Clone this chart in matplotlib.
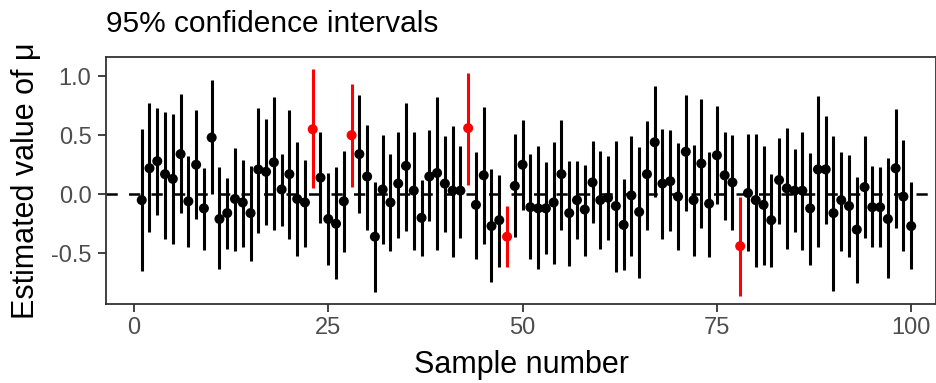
import matplotlib
matplotlib.use("Agg")
import matplotlib.pyplot as plt
import numpy as np

plt.rcParams['font.family'] = ['Liberation Sans', 'DejaVu Sans']

# sample means and 95% interval bounds
sample = list(range(1, 101))
estimate = [-0.05, 0.22, 0.28, 0.17, 0.13, 0.34, -0.06, 0.25, -0.12, 0.48,
            -0.21, -0.16, -0.04, -0.07, -0.16, 0.21, 0.19, 0.27, 0.04, 0.17,
            -0.04, -0.07, 0.55, 0.14, -0.21, -0.25, -0.06, 0.50, 0.34, 0.15,
            -0.36, 0.04, -0.07, 0.09, 0.24, 0.03, -0.20, 0.15, 0.18, 0.09,
            0.03, 0.03, 0.56, -0.09, 0.16, -0.27, -0.22, -0.36, 0.07, 0.25,
            -0.11, -0.12, -0.12, -0.07, 0.17, -0.16, -0.05, -0.13, 0.10, -0.05,
            -0.03, -0.10, -0.26, -0.01, -0.15, 0.17, 0.44, 0.09, 0.11, -0.02,
            0.36, -0.05, 0.26, -0.08, 0.33, 0.16, 0.10, -0.44, 0.01, -0.05,
            -0.09, -0.22, 0.12, 0.05, 0.03, 0.03, -0.12, 0.21, 0.21, -0.16,
            -0.05, -0.10, -0.30, 0.06, -0.11, -0.11, -0.21, 0.22, -0.02, -0.27]
upper = [0.55, 0.77, 0.73, 0.70, 0.68, 0.85, 0.32, 0.71, 0.22, 0.97,
         0.23, 0.14, 0.39, 0.29, 0.24, 0.73, 0.64, 0.82, 0.34, 0.71,
         0.44, 0.29, 1.06, 0.53, 0.18, 0.23, 0.37, 0.93, 0.84, 0.59,
         0.10, 0.50, 0.34, 0.53, 0.77, 0.53, 0.12, 0.54, 0.82, 0.49,
         0.58, 0.41, 1.03, 0.36, 0.74, 0.21, 0.16, -0.10, 0.51, 0.63,
         0.34, 0.41, 0.27, 0.44, 0.63, 0.28, 0.28, 0.25, 0.45, 0.37,
         0.32, 0.45, 0.13, 0.49, 0.40, 0.62, 0.92, 0.55, 0.54, 0.43,
         0.84, 0.42, 0.81, 0.36, 0.75, 0.53, 0.50, -0.02, 0.51, 0.51,
         0.41, 0.17, 0.48, 0.56, 0.38, 0.53, 0.35, 0.83, 0.66, 0.49,
         0.36, 0.33, 0.15, 0.49, 0.24, 0.23, 0.31, 0.72, 0.46, 0.10]
lower = [-0.65, -0.32, -0.18, -0.38, -0.42, -0.16, -0.45, -0.21, -0.47, 0.00,
         -0.63, -0.46, -0.48, -0.45, -0.57, -0.33, -0.26, -0.30, -0.27, -0.38,
         -0.52, -0.45, 0.05, -0.24, -0.60, -0.72, -0.49, 0.06, -0.16, -0.30,
         -0.83, -0.42, -0.48, -0.37, -0.31, -0.47, -0.52, -0.23, -0.47, -0.32,
         -0.53, -0.37, 0.08, -0.55, -0.42, -0.74, -0.62, -0.62, -0.36, -0.13,
         -0.55, -0.63, -0.51, -0.59, -0.30, -0.61, -0.38, -0.52, -0.24, -0.46,
         -0.39, -0.66, -0.64, -0.52, -0.71, -0.30, -0.02, -0.38, -0.31, -0.47,
         -0.14, -0.52, -0.29, -0.53, -0.08, -0.22, -0.30, -0.86, -0.48, -0.62,
         -0.60, -0.62, -0.25, -0.46, -0.32, -0.47, -0.60, -0.45, -0.25, -0.82,
         -0.48, -0.53, -0.75, -0.37, -0.45, -0.45, -0.71, -0.29, -0.48, -0.63]

x = np.array(sample)
est = np.array(estimate)
lo = np.array(lower)
hi = np.array(upper)
# intervals that miss zero are drawn in red
miss = (lo > 0) | (hi < 0)
colors = np.where(miss, 'red', 'black')

fig = plt.figure(figsize=(9.37, 3.83), dpi=100)
ax = fig.add_axes([0.1131, 0.2063, 0.8859, 0.6441])

ax.axhline(0, color='black', lw=1.8, linestyle=(0, (4.5, 4.5)), zorder=1)
ax.vlines(x, lo, hi, colors=colors, lw=2.2, zorder=2)
ax.scatter(x, est, c=colors, s=52, zorder=3, linewidths=0)

ax.set_xlim(-3.6, 103.2)
ax.set_ylim(-0.93, 1.16)
ax.set_xticks([0, 25, 50, 75, 100])
ax.set_yticks([-0.5, 0.0, 0.5, 1.0])
ax.set_yticklabels(['-0.5', '0.0', '0.5', '1.0'])

for s in ax.spines.values():
    s.set_color('#333333')
    s.set_linewidth(1.3)
ax.tick_params(colors='#333333', labelcolor='#4d4d4d', labelsize=17,
               length=5.5, width=1.3)
ax.tick_params(axis='y', pad=5)
ax.tick_params(axis='x', pad=4)

ax.set_xlabel('Sample number', fontsize=22, labelpad=8)
ax.set_ylabel('Estimated value of μ', fontsize=22, labelpad=7)
ax.set_title('95% confidence intervals', fontsize=21.5, loc='left', pad=18)

fig.savefig('out.png', dpi=100)
